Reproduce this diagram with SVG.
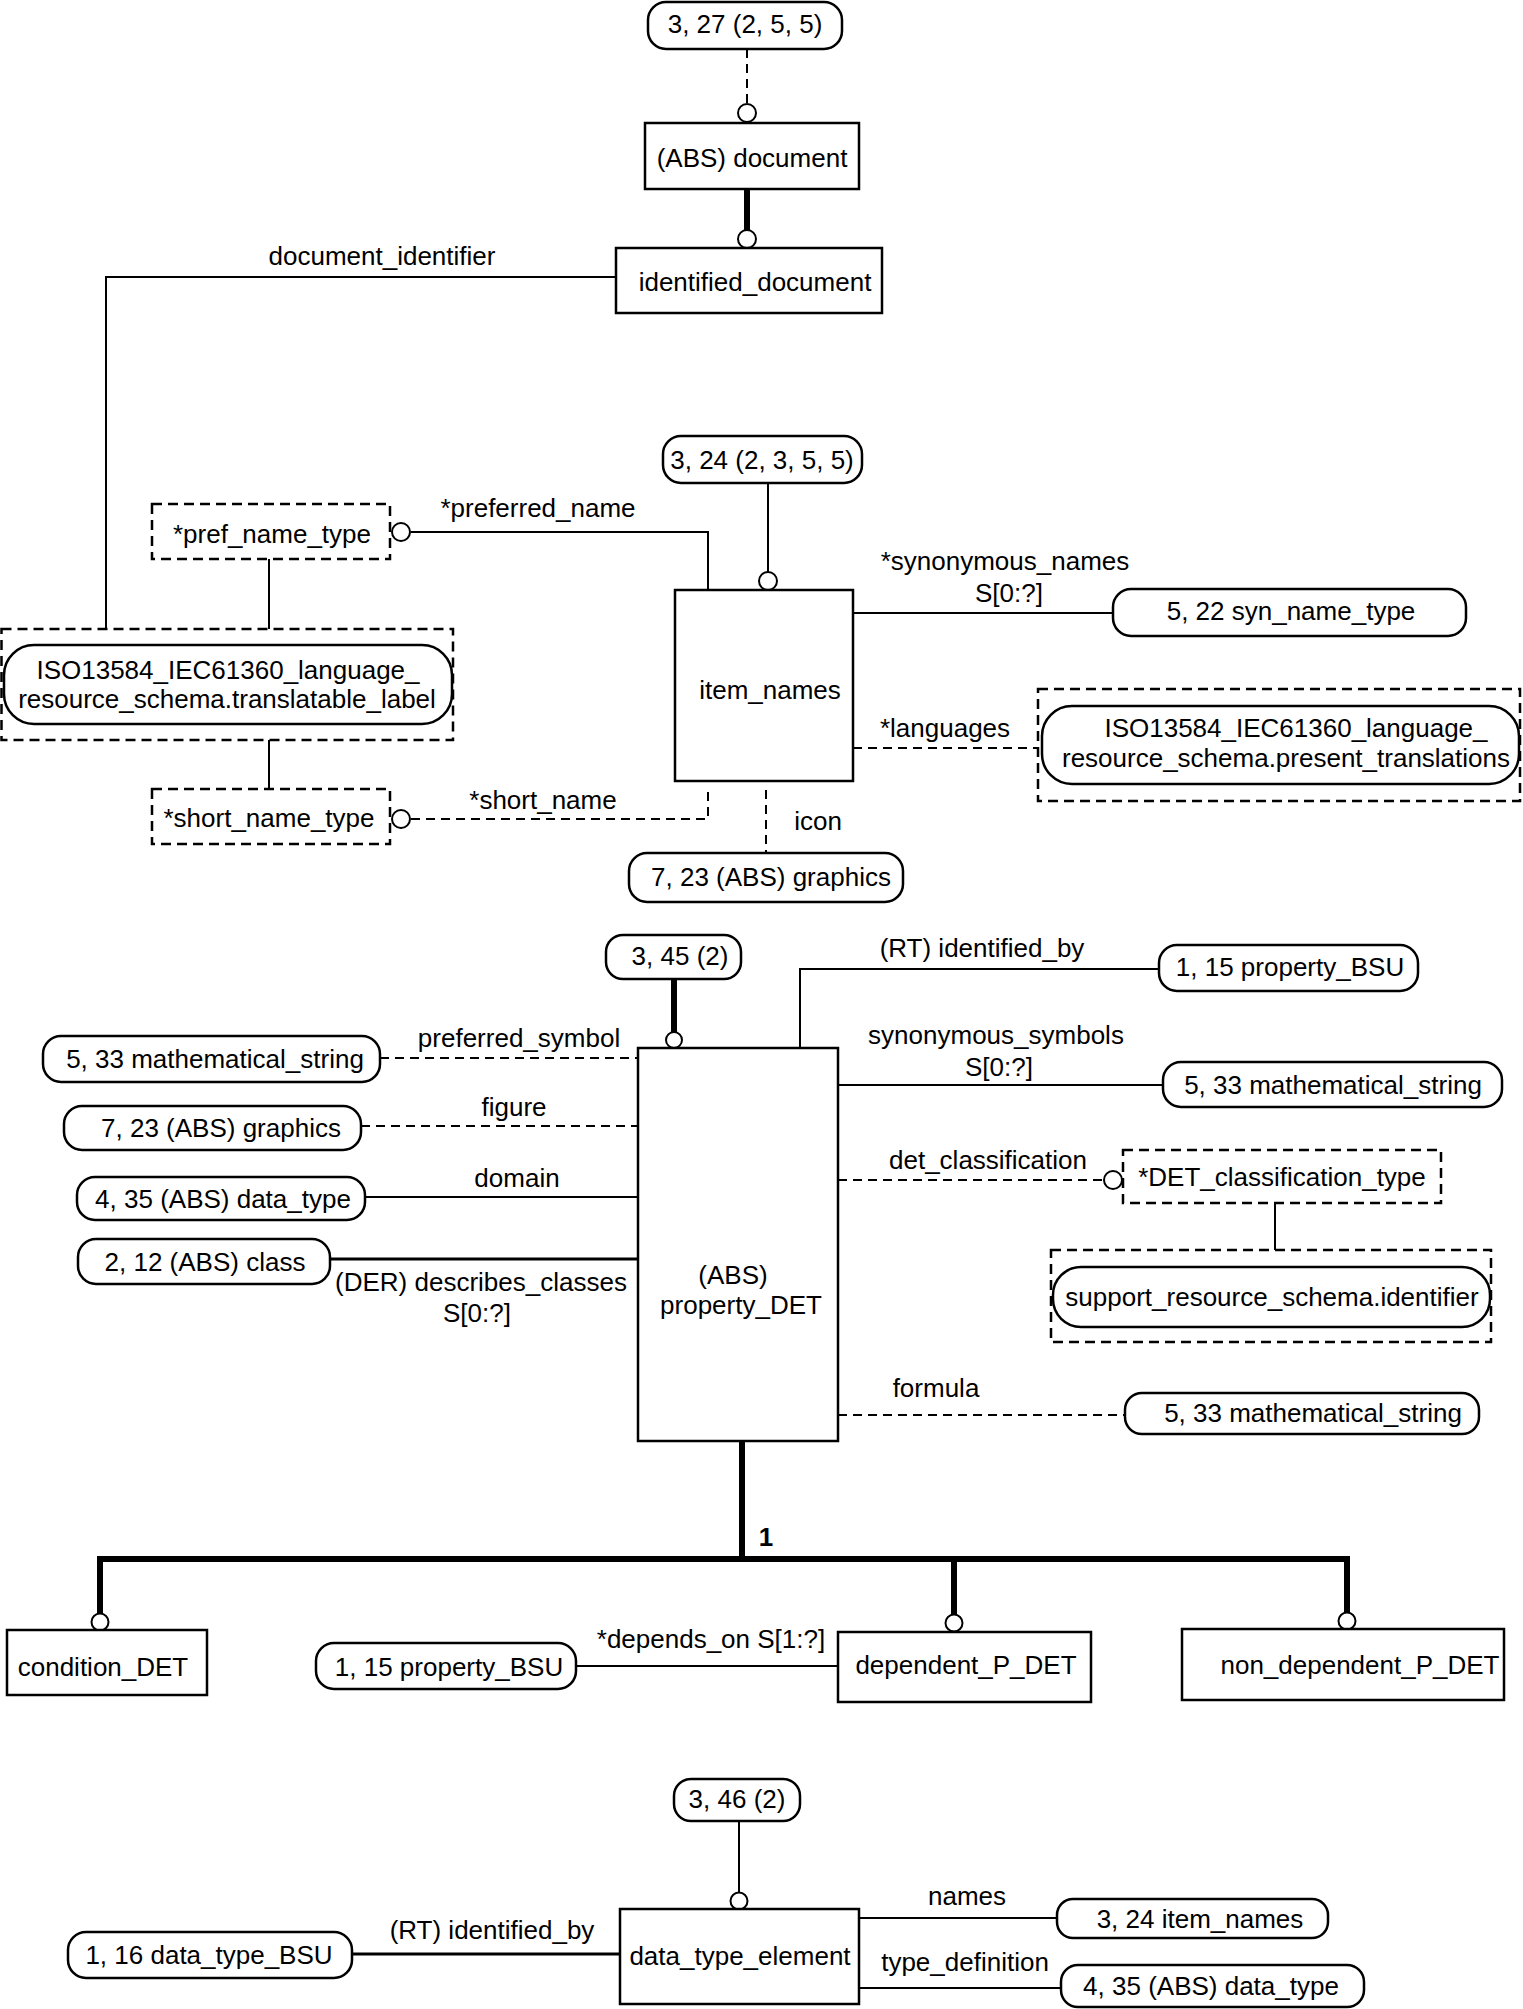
<svg xmlns="http://www.w3.org/2000/svg" width="1523" height="2009" viewBox="0 0 1523 2009">
<style>
.bx{fill:#fff;stroke:#000;stroke-width:2.5}
.rb{fill:#fff;stroke:#000;stroke-width:2.5}
.db{fill:none;stroke:#000;stroke-width:2.5;stroke-dasharray:10,6}
.ln{fill:none;stroke:#000;stroke-width:2}
.l3{fill:none;stroke:#000;stroke-width:3}
.dl{fill:none;stroke:#000;stroke-width:2;stroke-dasharray:9,6}
.tk{fill:none;stroke:#000;stroke-width:6}
.ci{fill:#fff;stroke:#000;stroke-width:2}
text{font-family:"Liberation Sans",Arial,sans-serif;font-size:26px;fill:#000;text-anchor:middle}
.b{font-weight:bold}
</style>
<rect width="1523" height="2009" fill="#fff"/>
<g id="connectors">
<path class="dl" d="M747,49 V104"/>
<path class="tk" d="M747,189 V231"/>
<path class="ln" d="M616,277 H106 V629"/>
<path class="ln" d="M768,483 V572"/>
<path class="ln" d="M411,532 H708 V590"/>
<path class="ln" d="M269,559 V629"/>
<path class="ln" d="M269,740 V789"/>
<path class="dl" d="M411,819 H708 V790"/>
<path class="ln" d="M853,613 H1113"/>
<path class="dl" d="M853,748 H1038"/>
<path class="dl" d="M766,790 V853"/>
<path class="tk" d="M674,979 V1032"/>
<path class="ln" d="M800,1048 V969 H1159"/>
<path class="ln" d="M838,1085 H1163"/>
<path class="dl" d="M838,1180 H1104"/>
<path class="ln" d="M1275,1203 V1250"/>
<path class="dl" d="M838,1415 H1125"/>
<path class="dl" d="M380,1058 H638"/>
<path class="dl" d="M361,1126 H638"/>
<path class="ln" d="M365,1197 H638"/>
<path class="l3" d="M330,1259 H638"/>
<path class="tk" d="M742,1441 V1559"/>
<path class="tk" d="M100,1615 V1559 H1347 V1615"/>
<path class="tk" d="M954,1559 V1615"/>
<path class="ln" d="M576,1666 H838"/>
<path class="ln" d="M739,1821 V1892"/>
<path class="l3" d="M352,1954 H620"/>
<path class="ln" d="M859,1918 H1057"/>
<path class="ln" d="M859,1988 H1061"/>
<circle class="ci" cx="747" cy="113" r="9"/>
<circle class="ci" cx="747" cy="239" r="9"/>
<circle class="ci" cx="768" cy="581" r="9"/>
<circle class="ci" cx="401" cy="532" r="9"/>
<circle class="ci" cx="401" cy="819" r="9"/>
<circle class="ci" cx="674" cy="1040" r="8"/>
<circle class="ci" cx="1113" cy="1180" r="9"/>
<circle class="ci" cx="100" cy="1622" r="8.5"/>
<circle class="ci" cx="954" cy="1623" r="8.5"/>
<circle class="ci" cx="1347" cy="1621" r="8.5"/>
<circle class="ci" cx="739" cy="1901" r="8.5"/>
<text x="382" y="265">document_identifier</text>
<text x="538" y="517">*preferred_name</text>
<text x="543" y="809">*short_name</text>
<text x="1005" y="570">*synonymous_names</text>
<text x="1009" y="602">S[0:?]</text>
<text x="945" y="737">*languages</text>
<text x="818" y="830">icon</text>
<text x="982" y="957">(RT) identified_by</text>
<text x="519" y="1047">preferred_symbol</text>
<text x="514" y="1116">figure</text>
<text x="517" y="1187">domain</text>
<text x="481" y="1291">(DER) describes_classes</text>
<text x="477" y="1322">S[0:?]</text>
<text x="996" y="1044">synonymous_symbols</text>
<text x="999" y="1076">S[0:?]</text>
<text x="988" y="1169">det_classification</text>
<text x="936" y="1397">formula</text>
<text class="b" x="766" y="1546">1</text>
<text x="711" y="1648">*depends_on S[1:?]</text>
<text x="492" y="1939">(RT) identified_by</text>
<text x="967" y="1905">names</text>
<text x="965" y="1971">type_definition</text>
</g>
<g id="n_3_27"><rect class="rb" x="648" y="2" width="194" height="47" rx="18"/><text x="745" y="33">3, 27 (2, 5, 5)</text></g>
<g id="n_document"><rect class="bx" x="645" y="123" width="214" height="66"/><text x="752" y="167">(ABS) document</text></g>
<g id="n_identified_document"><rect class="bx" x="616" y="248" width="266" height="65"/><text x="755" y="291">identified_document</text></g>
<g id="n_3_24"><rect class="rb" x="663" y="436" width="199" height="47" rx="18"/><text x="762" y="469">3, 24 (2, 3, 5, 5)</text></g>
<g id="n_item_names"><rect class="bx" x="675" y="590" width="178" height="191"/><text x="770" y="699">item_names</text></g>
<g id="n_pref_name_type"><rect class="db" x="152" y="504" width="238" height="55"/><text x="272" y="543">*pref_name_type</text></g>
<g id="n_translatable_label"><rect class="db" x="1.5" y="629" width="451.5" height="111"/><rect class="rb" x="4" y="645" width="448" height="79" rx="30"/><text x="228" y="679">ISO13584_IEC61360_language_</text><text x="227" y="708">resource_schema.translatable_label</text></g>
<g id="n_short_name_type"><rect class="db" x="152" y="789" width="238" height="55"/><text x="269" y="827">*short_name_type</text></g>
<g id="n_syn_name_type"><rect class="rb" x="1113" y="589" width="353" height="47" rx="18"/><text x="1291" y="620">5, 22 syn_name_type</text></g>
<g id="n_present_translations"><rect class="db" x="1038" y="689" width="482" height="112"/><rect class="rb" x="1042" y="706" width="477" height="78" rx="30"/><text x="1296" y="737">ISO13584_IEC61360_language_</text><text x="1286" y="767">resource_schema.present_translations</text></g>
<g id="n_graphics_top"><rect class="rb" x="629" y="853" width="274" height="49" rx="18"/><text x="771" y="886">7, 23 (ABS) graphics</text></g>
<g id="n_3_45"><rect class="rb" x="606" y="935" width="135" height="44" rx="17"/><text x="680" y="965">3, 45 (2)</text></g>
<g id="n_property_DET"><rect class="bx" x="638" y="1048" width="200" height="393"/><text x="733" y="1284">(ABS)</text><text x="741" y="1314">property_DET</text></g>
<g id="n_property_BSU_top"><rect class="rb" x="1159" y="945" width="259" height="46" rx="18"/><text x="1290" y="976">1, 15 property_BSU</text></g>
<g id="n_math_string_left"><rect class="rb" x="43" y="1036" width="337" height="46" rx="18"/><text x="215" y="1068">5, 33 mathematical_string</text></g>
<g id="n_graphics_left"><rect class="rb" x="64" y="1106" width="297" height="44" rx="18"/><text x="221" y="1137">7, 23 (ABS) graphics</text></g>
<g id="n_data_type_left"><rect class="rb" x="77" y="1177" width="288" height="43" rx="18"/><text x="223" y="1208">4, 35 (ABS) data_type</text></g>
<g id="n_class"><rect class="rb" x="78" y="1239" width="252" height="45" rx="18"/><text x="205" y="1271">2, 12 (ABS) class</text></g>
<g id="n_math_string_top"><rect class="rb" x="1163" y="1062" width="339" height="45" rx="18"/><text x="1333" y="1094">5, 33 mathematical_string</text></g>
<g id="n_DET_classification_type"><rect class="db" x="1123" y="1150" width="318" height="53"/><text x="1282" y="1186">*DET_classification_type</text></g>
<g id="n_support_identifier"><rect class="db" x="1051" y="1250" width="440" height="92"/><rect class="rb" x="1053" y="1267" width="437" height="60" rx="28"/><text x="1272" y="1306">support_resource_schema.identifier</text></g>
<g id="n_math_string_formula"><rect class="rb" x="1125" y="1393" width="354" height="41" rx="17"/><text x="1313" y="1422">5, 33 mathematical_string</text></g>
<g id="n_condition_DET"><rect class="bx" x="7" y="1630" width="200" height="65"/><text x="103" y="1676">condition_DET</text></g>
<g id="n_property_BSU_bottom"><rect class="rb" x="316" y="1643" width="260" height="46" rx="18"/><text x="449" y="1676">1, 15 property_BSU</text></g>
<g id="n_dependent_P_DET"><rect class="bx" x="838" y="1632" width="253" height="70"/><text x="966" y="1674">dependent_P_DET</text></g>
<g id="n_non_dependent_P_DET"><rect class="bx" x="1182" y="1629" width="322" height="71"/><text x="1360" y="1674">non_dependent_P_DET</text></g>
<g id="n_3_46"><rect class="rb" x="674" y="1779" width="126" height="42" rx="17"/><text x="737" y="1808">3, 46 (2)</text></g>
<g id="n_data_type_element"><rect class="bx" x="620" y="1909" width="239" height="95"/><text x="740" y="1965">data_type_element</text></g>
<g id="n_data_type_BSU"><rect class="rb" x="68" y="1932" width="284" height="46" rx="18"/><text x="209" y="1964">1, 16 data_type_BSU</text></g>
<g id="n_item_names_ref"><rect class="rb" x="1057" y="1899" width="271" height="39" rx="16"/><text x="1200" y="1928">3, 24 item_names</text></g>
<g id="n_data_type_ref"><rect class="rb" x="1061" y="1965" width="303" height="42" rx="17"/><text x="1211" y="1995">4, 35 (ABS) data_type</text></g>
</svg>
